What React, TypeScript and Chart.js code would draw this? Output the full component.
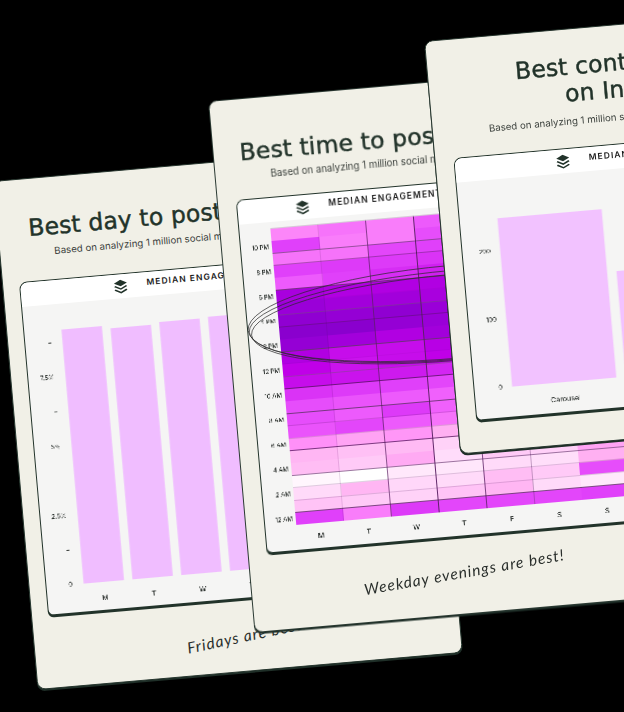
import React, { useEffect, useRef } from "react";
import { Chart, registerables } from "chart.js";
Chart.register(...registerables);

const dayLabels = ["M", "T", "W", "T", "F", "S", "S"];
const dayValues = [9.2, 9.1, 9.17, 9.2, 9.6, 8.8, 8.6];
const dayTicks = [0, 1.25, 2.5, 3.75, 5, 6.25, 7.5, 8.75];
const dayTickLabels = ["0", "–", "2.5%", "–", "5%", "–", "7.5%", "–"];

const formatLabels = ["Carousel", "Image", "Reel"];
const formatValues = [248, 155, 290];
const formatTicks = [0, 100, 200];

const hourLabels = ["12 AM", "2 AM", "4 AM", "6 AM", "8 AM", "10 AM", "12 PM", "2 PM", "4 PM", "6 PM", "8 PM", "10 PM"];
// rows from 12 AM upward, columns M T W T F S S
const heat = [
  [60, 44, 62, 58, 58, 58, 60],
  [24, 22, 19, 24, 28, 16, 10],
  [16, 28, 17, 16, 26, 22, 56],
  [4, 0, 10, 11, 16, 14, 30],
  [26, 22, 32, 15, 22, 20, 34],
  [28, 25, 27, 19, 30, 32, 36],
  [40, 34, 38, 30, 40, 42, 44],
  [54, 58, 52, 46, 50, 52, 50],
  [56, 52, 62, 50, 52, 54, 56],
  [56, 54, 52, 50, 54, 56, 58],
  [64, 62, 60, 58, 60, 62, 62],
  [76, 74, 72, 68, 70, 72, 70],
  [80, 74, 76, 80, 76, 74, 72],
  [84, 76, 76, 82, 78, 76, 74],
  [92, 88, 84, 88, 84, 80, 78],
  [96, 96, 92, 90, 88, 84, 80],
  [94, 92, 94, 90, 88, 84, 82],
  [90, 88, 88, 86, 84, 82, 80],
  [86, 84, 84, 84, 80, 78, 76],
  [52, 60, 66, 70, 66, 62, 60],
  [60, 62, 62, 64, 62, 60, 58],
  [46, 46, 58, 60, 58, 54, 52],
  [60, 44, 44, 56, 52, 48, 46],
  [42, 46, 44, 52, 48, 44, 42],
];

const colourStops: [number, number[]][] = [
  [0, [255, 255, 255]],
  [10, [255, 232, 251]],
  [20, [255, 208, 248]],
  [30, [255, 176, 242]],
  [40, [255, 144, 248]],
  [50, [240, 96, 252]],
  [60, [224, 64, 250]],
  [70, [208, 32, 240]],
  [80, [192, 0, 232]],
  [90, [154, 0, 216]],
  [100, [128, 0, 200]],
];
function heatColour(v: number) {
  for (let i = 1; i < colourStops.length; i++) {
    const [a, ca] = colourStops[i - 1];
    const [b, cb] = colourStops[i];
    if (v <= b) {
      const t = (v - a) / (b - a);
      const c = ca.map((x, k) => Math.round(x + (cb[k] - x) * t));
      return `rgb(${c[0]},${c[1]},${c[2]})`;
    }
  }
  return "rgb(128,0,200)";
}

const INK = "#22332a";
const TICK = "#2e3330";

function fixedAxes(yWidth: number, xHeight: number, yPad: number, xPad: number) {
  return {
    x: {
      grid: { display: false, drawTicks: false },
      border: { display: false },
      ticks: { color: TICK, font: { family: "Inter", size: 7, weight: 500 }, padding: xPad, maxRotation: 0, autoSkip: false },
      afterFit: (s: any) => { s.height = xHeight; },
    },
    y: {
      grid: { display: false, drawTicks: false },
      border: { display: false },
      ticks: { color: TICK, font: { family: "Inter", size: 6, weight: 500 }, padding: yPad, autoSkip: false },
      afterFit: (s: any) => { s.width = yWidth; },
    },
  };
}

function useChart(make: (c: HTMLCanvasElement) => Chart) {
  const ref = useRef<HTMLCanvasElement>(null);
  useEffect(() => {
    const ch = make(ref.current!);
    return () => ch.destroy();
  }, []);
  return ref;
}

function DayChart() {
  const ref = useChart((c) => {
    const a: any = fixedAxes(33, 29, 7, 12);
    a.y.min = 0;
    a.y.max = 9.75;
    a.y.afterBuildTicks = (s: any) => { s.ticks = dayTicks.map((value) => ({ value })); };
    a.y.ticks.callback = (v: number) => dayTickLabels[dayTicks.indexOf(v)] ?? "";
    return new Chart(c, {
      type: "bar",
      data: { labels: dayLabels, datasets: [{ data: dayValues, backgroundColor: "#f0bdff", barPercentage: 0.82, categoryPercentage: 1 }] },
      options: { responsive: false, animation: false, devicePixelRatio: 3, layout: { padding: { top: 11, right: 14 } }, plugins: { legend: { display: false }, tooltip: { enabled: false } }, scales: a },
    } as any);
  });
  return <canvas ref={ref} width={390} height={310} style={{ display: "block" }} />;
}

function HeatChart() {
  const ref = useChart((c) => {
    const a: any = fixedAxes(31, 25, 3, 9);
    a.x.stacked = true;
    a.y.stacked = true;
    a.y.min = 0;
    a.y.max = 24;
    a.y.afterBuildTicks = (s: any) => { s.ticks = hourLabels.map((_, i) => ({ value: i * 2 + 0.5 })); };
    a.y.ticks.callback = (v: number) => hourLabels[(v - 0.5) / 2] ?? "";
    return new Chart(c, {
      type: "bar",
      data: {
        labels: dayLabels,
        datasets: heat.map((row) => ({
          data: row.map(() => 1),
          backgroundColor: row.map(heatColour),
          borderColor: "rgba(80,20,90,0.75)",
          borderWidth: 0.5,
          barPercentage: 1,
          categoryPercentage: 1,
        })),
      },
      options: { responsive: false, animation: false, devicePixelRatio: 3, layout: { padding: { top: 6, right: 19 } }, plugins: { legend: { display: false }, tooltip: { enabled: false } }, scales: a },
    } as any);
  });
  return <canvas ref={ref} width={385} height={329} style={{ display: "block" }} />;
}

function FormatChart() {
  const ref = useChart((c) => {
    const a: any = fixedAxes(33, 30, 5, 13);
    a.y.min = 0;
    a.y.max = 292;
    a.y.afterBuildTicks = (s: any) => { s.ticks = formatTicks.map((value) => ({ value })); };
    return new Chart(c, {
      type: "bar",
      data: { labels: formatLabels, datasets: [{ data: formatValues, backgroundColor: "#f2c2ff", barPercentage: 0.92, categoryPercentage: 1 }] },
      options: { responsive: false, animation: false, devicePixelRatio: 3, layout: { padding: { top: 8, right: 15 } }, plugins: { legend: { display: false }, tooltip: { enabled: false } }, scales: a },
    } as any);
  });
  return <canvas ref={ref} width={390} height={238} style={{ display: "block" }} />;
}

function StackIcon({ x }: { x: number }) {
  return (
    <svg width="14" height="15" viewBox="0 0 14 15" style={{ position: "absolute", left: x - 7, top: 5 }}>
      <path d="M7 0.5 L13.5 3.8 L7 7 L0.5 3.8 Z" fill={INK} />
      <path d="M1.6 6.2 L7 9 L12.4 6.2 L13.5 7.4 L7 10.6 L0.5 7.4 Z" fill={INK} />
      <path d="M1.6 9.8 L7 12.6 L12.4 9.8 L13.5 11 L7 14.2 L0.5 11 Z" fill={INK} />
    </svg>
  );
}

function Panel(p: { top: number; left?: number; width: number; height: number; iconX: number; textX: number; children: React.ReactNode }) {
  return (
    <div style={{ position: "absolute", left: (p.left ?? 19) - 1, top: p.top - 1, width: p.width + 2, height: p.height + 4, background: INK, borderRadius: "8px 8px 6px 6px" }}>
      <div style={{ position: "absolute", left: 1, top: 1, width: p.width, height: p.height, background: "#f5f5f4", borderRadius: "7px 7px 5px 5px", overflow: "hidden" }}>
        <div style={{ position: "relative", height: 24, background: "#ffffff" }}>
          <StackIcon x={p.iconX} />
          <div style={{ position: "absolute", left: p.textX, top: 5, lineHeight: "14px", font: "600 8.5px Inter", letterSpacing: 1.05, color: "#1b1b1b", whiteSpace: "nowrap" }}>MEDIAN ENGAGEMENT RATE</div>
        </div>
        {p.children}
      </div>
    </div>
  );
}

function Card(p: { x: number; y: number; w: number; h: number; z: number; children: React.ReactNode }) {
  return (
    <div style={{ position: "absolute", left: p.x, top: p.y, width: p.w, height: p.h, zIndex: p.z, transformOrigin: "0 0", transform: "rotate(-5deg)" }}>
      <svg width={p.w + 4} height={p.h + 4} style={{ position: "absolute", left: -2, top: -2 }}>
        <rect x={2} y={3.5} width={p.w} height={p.h - 1} rx={8} fill="#1f2f28" />
        <rect x={2.5} y={2.5} width={p.w - 1} height={p.h - 2} rx={8} fill="#f1f0e7" stroke="#1f2f28" strokeWidth={0.9} />
      </svg>
      {p.children}
    </div>
  );
}

const titleStyle: React.CSSProperties = { position: "absolute", font: "400 23.5px 'DejaVu Sans'", letterSpacing: 0.15, lineHeight: "26px", color: INK, WebkitTextStroke: `0.45px ${INK}`, whiteSpace: "nowrap" };
const subStyle: React.CSSProperties = { position: "absolute", font: "400 9.7px Inter", lineHeight: "12px", color: "#3b403c", whiteSpace: "nowrap" };
const noteStyle: React.CSSProperties = { position: "absolute", font: "italic 400 15.5px Lato", letterSpacing: 1, lineHeight: "20px", color: "#2a2f2c", whiteSpace: "nowrap", transformOrigin: "0 100%", transform: "rotate(-5deg)" };

export default function App() {
  useEffect(() => { document.body.style.margin = "0"; document.body.style.background = "#000"; }, []);
  return (
    <div style={{ position: "fixed", left: 0, top: 0, width: 624, height: 712, background: "#000", overflow: "hidden" }}>
      <Card x={-7} y={181} w={427} h={512} z={1}>
        <div style={{ ...titleStyle, left: 31, top: 37 }}>Best day to post on Instagram</div>
        <div style={{ ...subStyle, left: 55, top: 69 }}>Based on analyzing 1 million social media posts on Instagram</div>
        <Panel top={104} left={18} width={390} height={333} iconX={100} textX={126}><DayChart /></Panel>
        <div style={{ ...noteStyle, left: 154, top: 472, transform: "rotate(-7deg)" }}>Fridays are best!</div>
      </Card>
      <Card x={208} y={101} w={425} h={535} z={2}>
        <div style={{ ...titleStyle, left: 27, top: 41 }}>Best time to post on Instagram</div>
        <div style={{ ...subStyle, left: 56, top: 72 }}>Based on analyzing 1 million social media posts on Instagram</div>
        <Panel top={102} left={20} width={385} height={353} iconX={65} textX={91}><HeatChart /></Panel>
        <svg width="425" height="535" style={{ position: "absolute", left: 0, top: 0, pointerEvents: "none" }}>
          <ellipse cx={225} cy={232} rx={205} ry={47} fill="none" stroke="#2b2b2b" strokeWidth={0.7} />
          <ellipse cx={229} cy={234} rx={208} ry={44} fill="none" stroke="#2b2b2b" strokeWidth={0.7} />
          <ellipse cx={224} cy={237} rx={201} ry={43} fill="none" stroke="#2b2b2b" strokeWidth={0.7} />
        </svg>
        <div style={{ ...noteStyle, left: 114, top: 490 }}>Weekday evenings are best!</div>
      </Card>
      <Card x={424} y={41} w={432} h={416} z={3}>
        <div style={{ ...titleStyle, left: 88, top: 24, lineHeight: "28px" }}>Best content format</div>
        <div style={{ ...titleStyle, left: 136, top: 51, lineHeight: "28px" }}>on Instagram</div>
        <div style={{ ...subStyle, left: 57, top: 87 }}>Based on analyzing 1 million social media posts on Instagram</div>
        <Panel top={120} left={20} width={390} height={262} iconX={108} textX={134}><FormatChart /></Panel>
      </Card>
    </div>
  );
}
